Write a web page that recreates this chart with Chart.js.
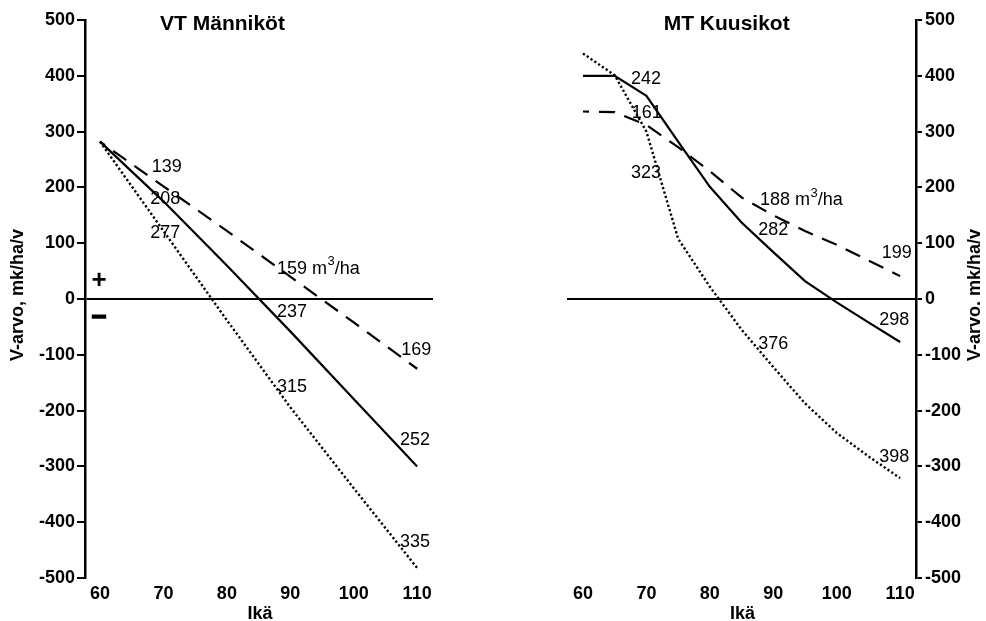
<!DOCTYPE html>
<html>
<head>
<meta charset="utf-8">
<script src="https://cdn.jsdelivr.net/npm/chart.js@4.4.1/dist/chart.umd.min.js"></script>
<style>
  html, body { margin: 0; padding: 0; background: #fff; }
  body { width: 986px; height: 621px; position: relative; overflow: hidden; }
  canvas { position: absolute; top: 0; }
  #left { left: 0; }
  #right { left: 480px; }
</style>
</head>
<body>
<canvas id="left" width="460" height="621"></canvas>
<canvas id="right" width="506" height="621"></canvas>
<script>
// ---- data ----
const vtAges   = [60, 70, 80, 90, 100, 110];
const vtSolid  = [282, 175, 60, -58, -179, -300];
const vtDashed = [282, 202, 122, 40, -42, -125];
const vtDotted = [282, 122, -38, -194, -339, -482];

const mtAges   = [60, 65, 70, 75, 80, 85, 90, 95, 100, 105, 110];
const mtSolid  = [400, 400, 364, 282, 201, 137, 84, 32, -6, -42, -77];
const mtDashed = [336, 335, 312, 272, 229, 182, 150, 122, 97, 69, 41];
const mtDotted = [440, 401, 300, 108, 22, -55, -122, -187, -240, -282, -321];

const xTicks = [60, 70, 80, 90, 100, 110];
const yTicks = [-500, -400, -300, -200, -100, 0, 100, 200, 300, 400, 500];

// annotation texts anchored at (age, value)
const vtNotes = [
  [68.15, 237, '139'], [67.9, 179, '208'], [67.9, 118, '277'],
  [87.9, 54, '159 m^3/ha'], [87.9, -23, '237'], [87.9, -157, '315'],
  [107.5, -91, '169'], [107.3, -253, '252'], [107.3, -435, '335']
];
const mtNotes = [
  [67.57, 395, '242'], [67.67, 333, '161'], [67.57, 226, '323'],
  [87.9, 177, '188 m^3/ha'], [87.64, 124, '282'],
  [107.09, 82, '199'], [106.72, -38, '298'], [87.64, -81, '376'], [106.72, -284, '398']
];

const FONT = "'Liberation Sans', Arial, Helvetica, sans-serif";

function pts(ages, vals) { return ages.map((a, i) => ({ x: a, y: vals[i] })); }

function datasets(ages, s, d, o) {
  const base = { borderColor: '#000', borderWidth: 2, pointRadius: 0, tension: 0, fill: false };
  return [
    Object.assign({}, base, { label: 'solid', data: pts(ages, s), borderWidth: 2.2 }),
    Object.assign({}, base, { label: 'dashed', data: pts(ages, d), borderDash: [16, 10], borderDashOffset: 10, borderWidth: 2.2 }),
    Object.assign({}, base, { label: 'dotted', data: pts(ages, o), borderDash: [2.2, 2.4], borderWidth: 2.4 })
  ];
}

function drawNote(ctx, x, y, text) {
  ctx.textAlign = 'left';
  ctx.textBaseline = 'middle';
  ctx.font = '18px ' + FONT;
  if (text.indexOf('^3') >= 0) {
    const parts = text.split('^3');
    ctx.fillText(parts[0], x, y);
    let w = ctx.measureText(parts[0]).width;
    ctx.font = '13px ' + FONT;
    ctx.fillText('3', x + w + 0.5, y - 7);
    w += ctx.measureText('3').width + 0.5;
    ctx.font = '18px ' + FONT;
    ctx.fillText(parts[1], x + w, y);
  } else {
    ctx.fillText(text, x, y);
  }
}

function textPlugin(cfg) {
  return {
    id: 'texts_' + cfg.id,
    afterDraw(chart) {
      const ctx = chart.ctx;
      const xs = chart.scales.x, ys = chart.scales.y;
      ctx.save();
      ctx.fillStyle = '#000';
      // title
      ctx.font = 'bold 21px ' + FONT;
      ctx.textAlign = 'center';
      ctx.textBaseline = 'middle';
      ctx.fillText(cfg.title, cfg.titleX, 24);
      // x title
      ctx.font = 'bold 18px ' + FONT;
      ctx.textBaseline = 'alphabetic';
      ctx.fillText('Ikä', cfg.xTitleX, 619);
      // y title
      ctx.save();
      ctx.translate(cfg.yTitleX, 295);
      ctx.rotate(-Math.PI / 2);
      ctx.font = 'bold 18px ' + FONT;
      ctx.textAlign = 'center';
      ctx.textBaseline = 'middle';
      ctx.fillText(cfg.yTitle, 0, 0);
      ctx.restore();
      // notes
      cfg.notes.forEach(n => drawNote(ctx, xs.getPixelForValue(n[0]), ys.getPixelForValue(n[1]), n[2]));
      // plus / minus signs
      if (cfg.signs) {
        ctx.font = 'bold 26px ' + FONT;
        ctx.textAlign = 'center';
        ctx.textBaseline = 'middle';
        ctx.fillText('+', 99, 281);
        ctx.lineWidth = 1.6;
        ctx.strokeStyle = '#000';
        ctx.fillText('–', 99, 317);
        ctx.strokeText('–', 99, 317);
      }
      ctx.restore();
    }
  };
}

function makeChart(id, ages, s, d, o, opt) {
  return new Chart(document.getElementById(id), {
    type: 'line',
    data: { datasets: datasets(ages, s, d, o) },
    options: {
      responsive: false,
      animation: false,
      layout: { padding: opt.padding },
      plugins: { legend: { display: false }, tooltip: { enabled: false } },
      scales: {
        x: {
          type: 'linear',
          position: 'bottom',
          min: opt.xMin, max: opt.xMax,
          afterBuildTicks: a => { a.ticks = xTicks.map(v => ({ value: v })); },
          afterFit: a => { a.height = 43; },
          grid: { display: false, drawTicks: false },
          border: { display: false },
          ticks: { color: '#000', font: { family: FONT, size: 18, weight: 'bold' }, padding: 5, maxRotation: 0,
                   callback: v => String(v) }
        },
        y: {
          type: 'linear',
          position: opt.yPos,
          min: -500, max: 500,
          afterBuildTicks: a => { a.ticks = yTicks.map(v => ({ value: v })); },
          afterFit: a => { a.width = opt.yWidth; },
          grid: {
            drawOnChartArea: true,
            drawTicks: true,
            tickLength: opt.tickLen,
            color: c => (c.tick && c.tick.value === 0) ? '#000' : 'rgba(0,0,0,0)',
            tickColor: '#000',
            lineWidth: 2
          },
          border: { display: true, color: '#000', width: 2.5 },
          ticks: { color: '#000', font: { family: FONT, size: 18, weight: 'bold' }, padding: opt.tickPad,
                   callback: v => String(v) }
        }
      }
    },
    plugins: [textPlugin(opt.text)]
  });
}

makeChart('left', vtAges, vtSolid, vtDashed, vtDotted, {
  padding: { left: 0, right: 27, top: 20, bottom: 0 },
  xMin: 57.63, xMax: 112.5, yPos: 'left', yWidth: 85, tickLen: 8, tickPad: 2,
  text: { id: 'l', title: 'VT Männiköt', titleX: 222.5, xTitleX: 260, yTitle: 'V-arvo, mk/ha/v', yTitleX: 18,
          notes: vtNotes, signs: true }
});

makeChart('right', mtAges, mtSolid, mtDashed, mtDotted, {
  padding: { left: 87, right: 0, top: 20, bottom: 0 },
  xMin: 57.48, xMax: 112.5, yPos: 'right', yWidth: 70, tickLen: 6, tickPad: 3,
  text: { id: 'r', title: 'MT Kuusikot', titleX: 246.7, xTitleX: 262.5, yTitle: 'V-arvo. mk/ha/v', yTitleX: 495.5,
          notes: mtNotes, signs: false }
});
</script>
</body>
</html>
